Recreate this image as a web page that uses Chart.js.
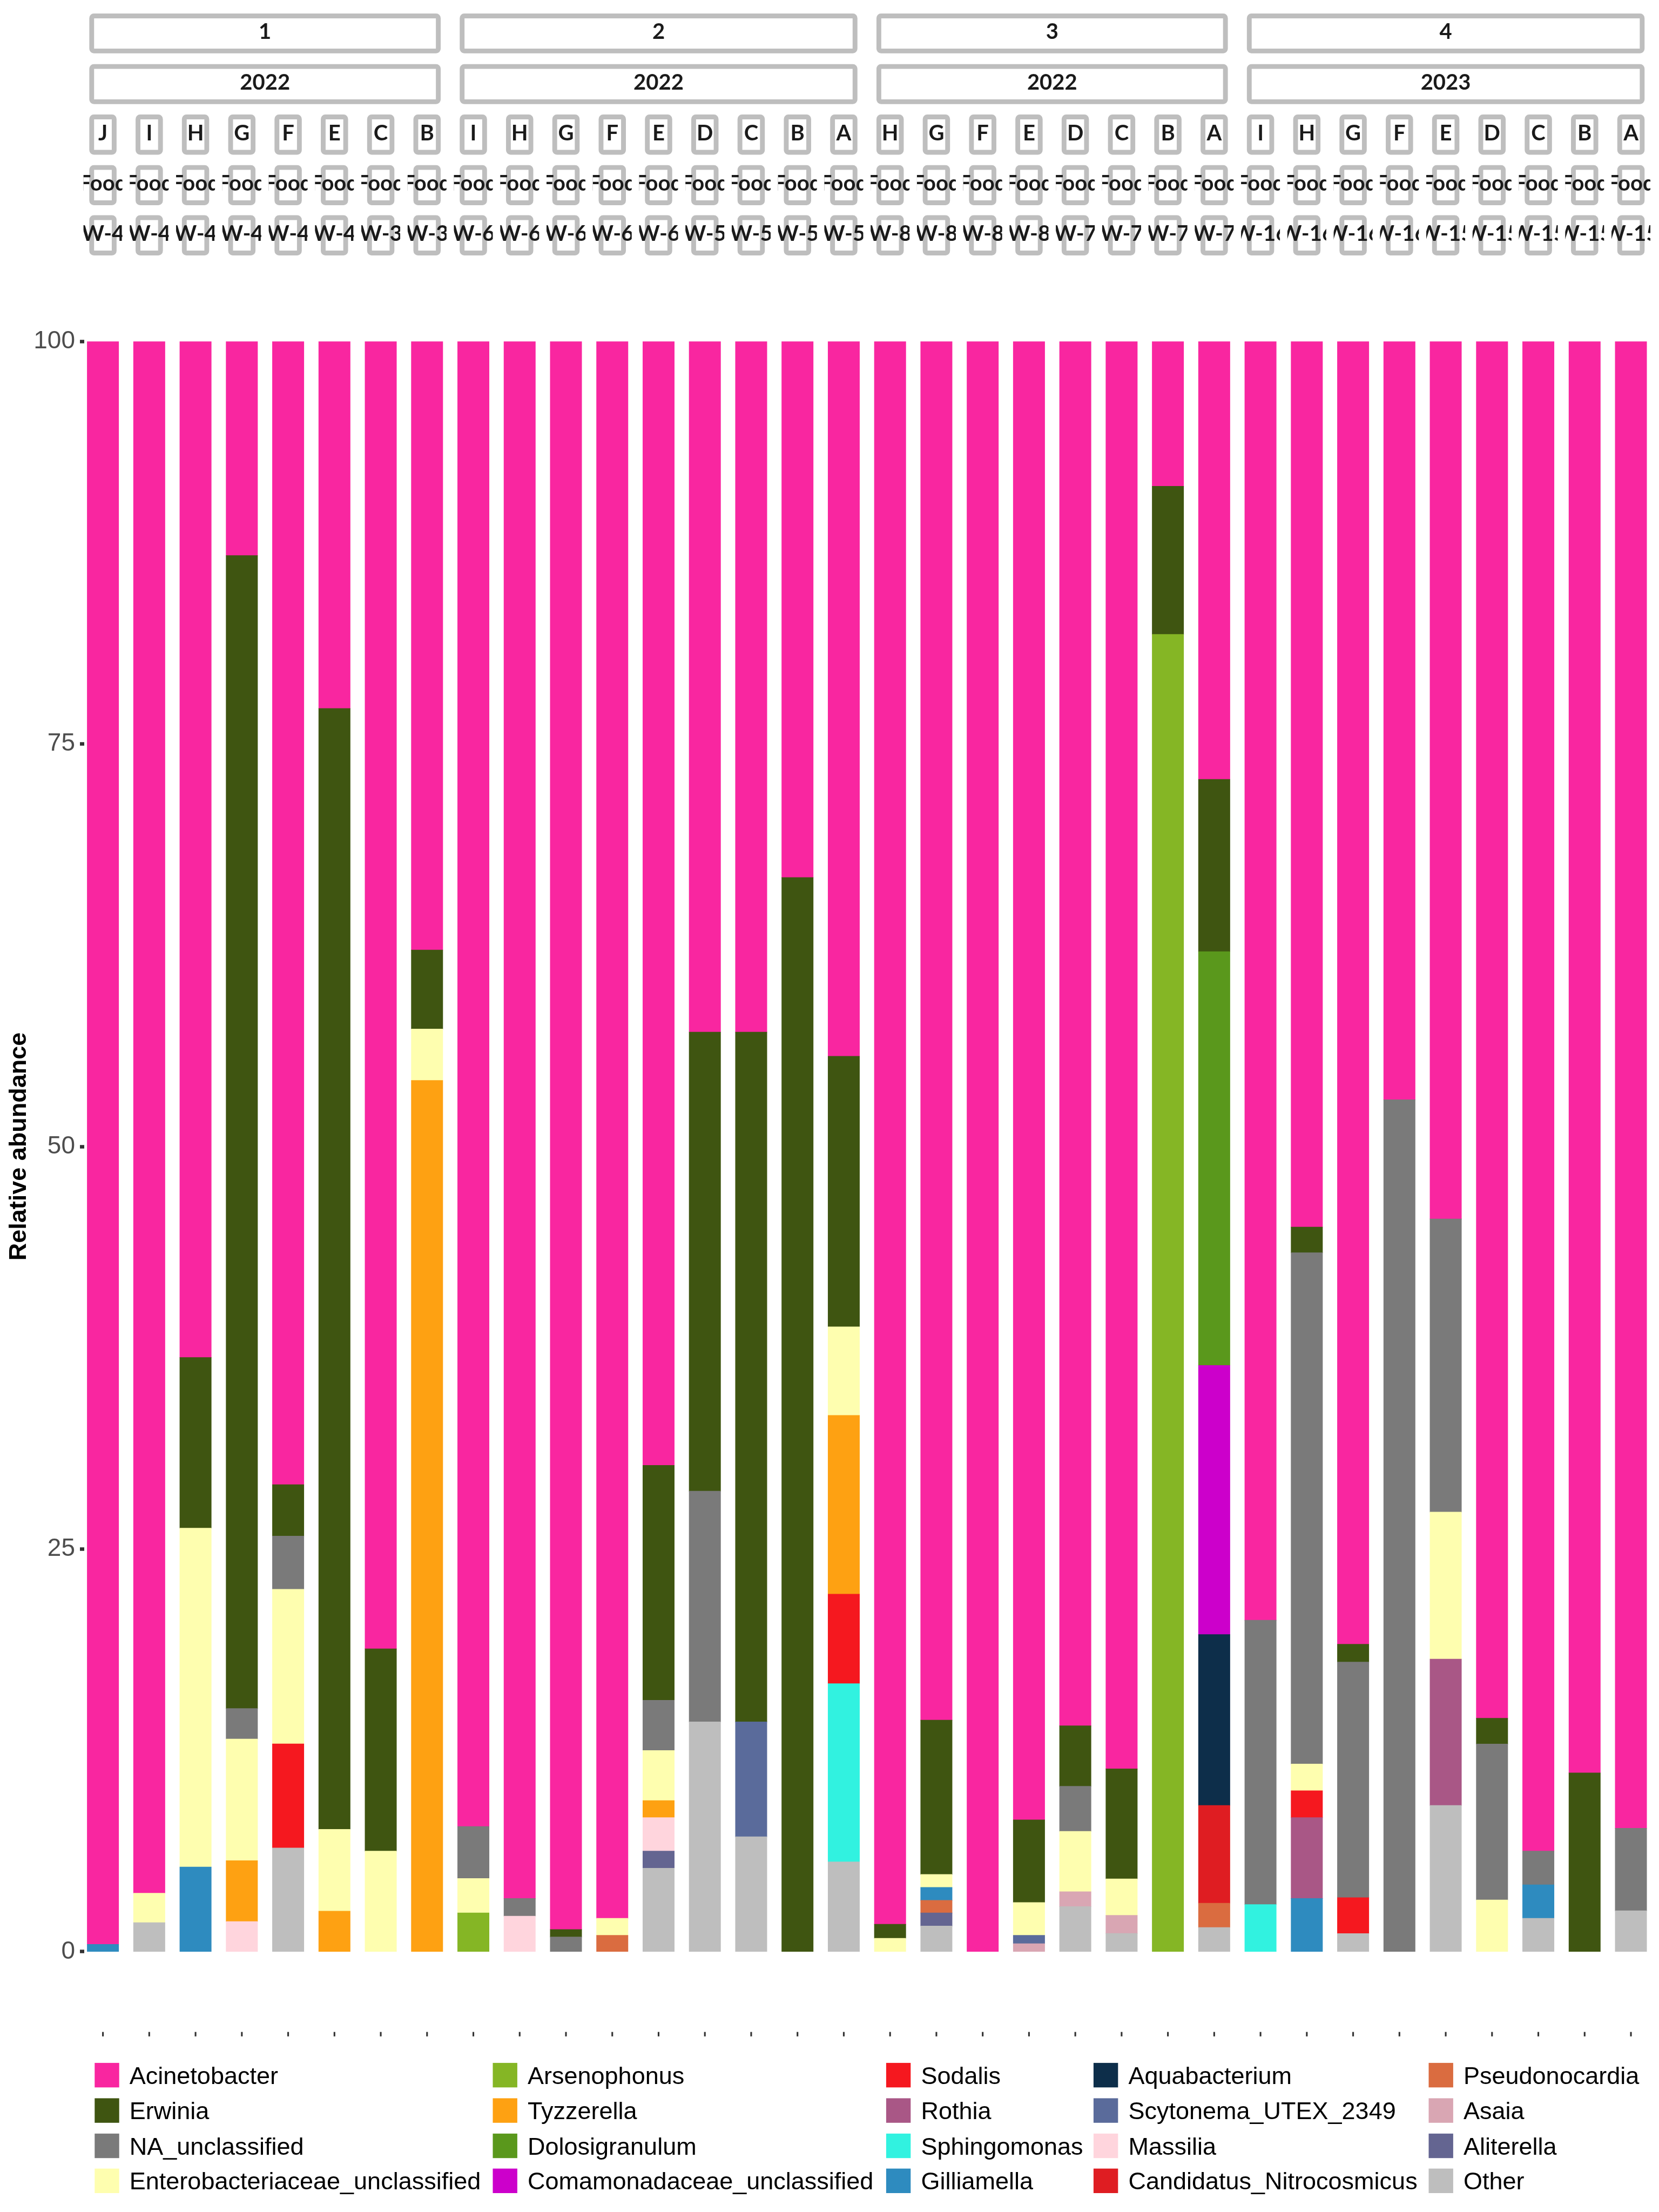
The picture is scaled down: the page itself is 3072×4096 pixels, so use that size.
<!DOCTYPE html>
<html>
<head>
<meta charset="utf-8">
<script src="https://cdn.jsdelivr.net/npm/chart.js@4/dist/chart.umd.min.js"></script>
<style>
html,body{margin:0;padding:0;background:#ffffff;}
#wrap{width:3072px;height:4096px;position:relative;}
</style>
</head>
<body>
<div id="wrap"><canvas id="c" width="3072" height="4096"></canvas></div>
<script>
// ---------------- data ----------------
const samples = ['J','I','H','G','F','E','C','B',
                 'I','H','G','F','E','D','C','B','A',
                 'H','G','F','E','D','C','B','A',
                 'I','H','G','F','E','D','C','B','A'];
const panelIds = ['1','2','3','4'];
const panelYears = ['2022','2022','2022','2023'];
const panelSizes = [8,9,8,9];
const sources = ['Food','Food','Food','Food','Food','Food','Food','Food',
                 'Food','Food','Food','Food','Food','Food','Food','Food','Food',
                 'Food','Food','Food','Food','Food','Food','Food','Food',
                 'Food','Food','Food','Food','Food','Food','Food','Food','Food'];
const weeks = ['W-4','W-4','W-4','W-4','W-4','W-4','W-3','W-3',
               'W-6','W-6','W-6','W-6','W-6','W-5','W-5','W-5','W-5',
               'W-8','W-8','W-8','W-8','W-7','W-7','W-7','W-7',
               'W-16','W-16','W-16','W-16','W-15','W-15','W-15','W-15','W-15'];
const yTicks = [0,25,50,75,100];
const yTitle = 'Relative abundance';

const acinetobacter = [99.55,96.37,63.1,13.3,71.0,22.8,81.2,37.8,
                       92.23,96.7,98.63,97.93,69.8,42.9,42.9,33.3,44.4,
                       98.3,85.62,100,91.82,85.98,88.65,9.0,27.2,
                       79.42,55.0,80.91,47.1,54.5,85.51,93.76,88.9,92.34];
const erwinia = [0,0,10.6,71.6,3.2,69.61,12.56,4.9,
                 0,0,0.46,0,14.59,28.5,42.83,66.7,16.8,
                 0.87,9.59,0,5.13,3.75,6.83,9.2,10.7,
                 0,1.6,1.11,0,0,1.6,0,11.1,0];
const naUnclassified = [0,0,0,1.9,3.3,0,0,0,
                        3.23,1.1,0.91,0,3.12,14.33,0,0,0,
                        0,0,0,0,2.8,0,0,0,
                        17.66,31.75,14.63,52.9,18.2,9.68,2.09,0,5.12];
const enterobacteriaceae = [0,1.83,21.05,7.55,9.6,5.08,6.24,3.2,
                            2.14,0,0,1.06,3.11,0,0,0,5.5,
                            0.83,0.8,0,2.04,3.75,2.27,0,0,
                            0,1.66,0,0,9.13,3.21,0,0,0];
const arsenophonus = [0,0,0,0,0,0,0,0,
                      2.4,0,0,0,0,0,0,0,0,
                      0,0,0,0,0,0,81.8,0,
                      0,0,0,0,0,0,0,0,0];
const tyzzerella = [0,0,0,3.78,0,2.51,0,54.1,
                    0,0,0,0,1.06,0,0,0,11.1,
                    0,0,0,0,0,0,0,0,
                    0,0,0,0,0,0,0,0,0];
const dolosigranulum = [0,0,0,0,0,0,0,0,
                        0,0,0,0,0,0,0,0,0,
                        0,0,0,0,0,0,0,25.7,
                        0,0,0,0,0,0,0,0,0];
const comamonadaceae = [0,0,0,0,0,0,0,0,
                        0,0,0,0,0,0,0,0,0,
                        0,0,0,0,0,0,0,16.71,
                        0,0,0,0,0,0,0,0,0];
const sodalis = [0,0,0,0,6.46,0,0,0,
                 0,0,0,0,0,0,0,0,5.56,
                 0,0,0,0,0,0,0,0,
                 0,1.67,2.23,0,0,0,0,0,0];
const rothia = [0,0,0,0,0,0,0,0,
                0,0,0,0,0,0,0,0,0,
                0,0,0,0,0,0,0,0,
                0,5.02,0,0,9.09,0,0,0,0];
const sphingomonas = [0,0,0,0,0,0,0,0,
                      0,0,0,0,0,0,0,0,11.07,
                      0,0,0,0,0,0,0,0,
                      2.92,0,0,0,0,0,0,0,0];
const gilliamella = [0.45,0,5.25,0,0,0,0,0,
                     0,0,0,0,0,0,0,0,0,
                     0,0.81,0,0,0,0,0,0,
                     0,3.3,0,0,0,0,2.08,0,0];
const aquabacterium = [0,0,0,0,0,0,0,0,
                       0,0,0,0,0,0,0,0,0,
                       0,0,0,0,0,0,0,10.61,
                       0,0,0,0,0,0,0,0,0];
const scytonema = [0,0,0,0,0,0,0,0,
                   0,0,0,0,0,0,7.14,0,0,
                   0,0,0,0.52,0,0,0,0,
                   0,0,0,0,0,0,0,0,0];
const massilia = [0,0,0,1.87,0,0,0,0,
                  0,2.2,0,0,2.08,0,0,0,0,
                  0,0,0,0,0,0,0,0,
                  0,0,0,0,0,0,0,0,0];
const candidatus = [0,0,0,0,0,0,0,0,
                    0,0,0,0,0,0,0,0,0,
                    0,0,0,0,0,0,0,6.07,
                    0,0,0,0,0,0,0,0,0];
const pseudonocardia = [0,0,0,0,0,0,0,0,
                        0,0,0,1.01,0,0,0,0,0,
                        0,0.78,0,0,0,0,0,1.51,
                        0,0,0,0,0,0,0,0,0];
const asaia = [0,0,0,0,0,0,0,0,
               0,0,0,0,0,0,0,0,0,
               0,0,0,0.49,0.92,1.12,0,0,
               0,0,0,0,0,0,0,0,0];
const aliterella = [0,0,0,0,0,0,0,0,
                    0,0,0,0,1.06,0,0,0,0,
                    0,0.81,0,0,0,0,0,0,
                    0,0,0,0,0,0,0,0,0];
const other = [0,1.8,0,0,6.44,0,0,0,
               0,0,0,0,5.18,14.27,7.13,0,5.57,
               0,1.59,0,0,2.8,1.13,0,1.5,
               0,0,1.12,0,9.08,0,2.07,0,2.54];

const genusNames = ['Acinetobacter','Erwinia','NA_unclassified','Enterobacteriaceae_unclassified',
  'Arsenophonus','Tyzzerella','Dolosigranulum','Comamonadaceae_unclassified',
  'Sodalis','Rothia','Sphingomonas','Gilliamella',
  'Aquabacterium','Scytonema_UTEX_2349','Massilia','Candidatus_Nitrocosmicus',
  'Pseudonocardia','Asaia','Aliterella','Other'];
const genusValues = [acinetobacter, erwinia, naUnclassified, enterobacteriaceae,
  arsenophonus, tyzzerella, dolosigranulum, comamonadaceae,
  sodalis, rothia, sphingomonas, gilliamella,
  aquabacterium, scytonema, massilia, candidatus,
  pseudonocardia, asaia, aliterella, other];
const genusColors = ['#F926A0','#3F5511','#7A7A7A','#FEFEAF',
  '#85B625','#FEA112','#5A981C','#CC00CB',
  '#F5181F','#A95786','#31F2E0','#2E8BBF',
  '#0D2E4A','#5A6B9B','#FFD5DD','#DF1D22',
  '#DA6C40','#D9A6B3','#646591','#BEBEBE'];

// ---------------- chart ----------------
Chart.defaults.font.family = "'Liberation Sans', Arial, sans-serif";

const datasets = [];
for (let g = genusNames.length - 1; g >= 0; g--) {
  const pts = [];
  genusValues[g].forEach((v, i) => { if (v > 0) pts.push({x: i, y: v}); });
  datasets.push({
    label: genusNames[g],
    data: pts,
    backgroundColor: genusColors[g],
    borderWidth: 0,
    barThickness: 58,
    inflateAmount: 0.5
  });
}

const decor = {
  id: 'decor',
  beforeDraw(chart) {
    const ctx = chart.ctx;
    ctx.save();
    ctx.fillStyle = '#ffffff';
    ctx.fillRect(0, 0, chart.width, chart.height);
    ctx.restore();
  },
  afterDraw(chart) {
    const ctx = chart.ctx;
    const xs = chart.scales.x;
    const rows = [[25.1,98.8],[118.7,192.8],[212.0,286.4],[305.7,380.0],[398.6,473.0]];
    const half = 25.25, bw = 8.9;
    function box(l, r, t, b) {
      ctx.save();
      ctx.fillStyle = '#ffffff';
      ctx.strokeStyle = '#BEBEBE';
      ctx.lineWidth = bw;
      ctx.beginPath();
      ctx.roundRect(l + bw/2, t + bw/2, (r - l) - bw, (b - t) - bw, 4);
      ctx.fill();
      ctx.stroke();
      ctx.restore();
    }
    function label(txt, cx, row, clipW) {
      const t = rows[row][0], b = rows[row][1];
      ctx.save();
      if (clipW) {
        ctx.beginPath();
        ctx.rect(cx - clipW/2, t, clipW, b - t);
        ctx.clip();
      }
      ctx.fillStyle = '#1A1A1A';
      ctx.font = "bold 40px Lato, 'Open Sans', sans-serif";
      ctx.textAlign = 'center';
      ctx.textBaseline = 'alphabetic';
      ctx.fillText(txt, cx, (t + b) / 2 + 10.3);
      ctx.restore();
    }
    // panel strips
    let start = 0;
    for (let p = 0; p < panelSizes.length; p++) {
      const first = start, last = start + panelSizes[p] - 1;
      const l = xs.getPixelForValue(first) - half;
      const r = xs.getPixelForValue(last) + half;
      box(l, r, rows[0][0], rows[0][1]);
      box(l, r, rows[1][0], rows[1][1]);
      label(panelIds[p], (l + r) / 2, 0);
      label(panelYears[p], (l + r) / 2, 1);
      start += panelSizes[p];
    }
    // per-sample strips
    for (let i = 0; i < samples.length; i++) {
      const cx = xs.getPixelForValue(i);
      for (let r = 2; r < 5; r++) box(cx - half, cx + half, rows[r][0], rows[r][1]);
      label(samples[i], cx, 2, 72);
      label(sources[i], cx, 3, 72);
      label(weeks[i], cx, 4, 72);
    }
    // bottom x ticks
    ctx.save();
    ctx.strokeStyle = '#333333';
    ctx.lineWidth = 3.1;
    for (let i = 0; i < samples.length; i++) {
      const cx = xs.getPixelForValue(i);
      ctx.beginPath();
      ctx.moveTo(cx, 3762.6);
      ctx.lineTo(cx, 3770.8);
      ctx.stroke();
    }
    ctx.restore();
    // y title
    ctx.save();
    ctx.translate(48.4, (chart.chartArea.top + chart.chartArea.bottom) / 2);
    ctx.rotate(-Math.PI / 2);
    ctx.fillStyle = '#000000';
    ctx.font = "bold 45px 'Liberation Sans', Arial, sans-serif";
    ctx.textAlign = 'center';
    ctx.textBaseline = 'alphabetic';
    ctx.fillText(yTitle, 0, 0);
    ctx.restore();
    // legend (column-major, 4 rows x 5 columns)
    const colX = [175.3, 912.5, 1640.9, 2024.9, 2645.5];
    const rowTop = [3819.9, 3885.4, 3950.8, 4015.6];
    const key = 45.4;
    ctx.save();
    ctx.font = "45px 'Liberation Sans', Arial, sans-serif";
    ctx.textAlign = 'left';
    ctx.textBaseline = 'alphabetic';
    for (let g = 0; g < genusNames.length; g++) {
      const c = Math.floor(g / 4), r = g % 4;
      ctx.fillStyle = genusColors[g];
      ctx.fillRect(colX[c], rowTop[r], key, key);
      ctx.fillStyle = '#000000';
      ctx.fillText(genusNames[g], colX[c] + 64.5, rowTop[r] + key / 2 + 16.1);
    }
    ctx.restore();
  }
};

new Chart(document.getElementById('c'), {
  type: 'bar',
  data: { datasets },
  options: {
    responsive: false,
    animation: false,
    devicePixelRatio: 1,
    layout: { padding: { top: 632.2, right: 9.1, left: 0, bottom: 0 } },
    plugins: { legend: { display: false }, tooltip: { enabled: false } },
    scales: {
      x: {
        type: 'linear',
        stacked: true,
        min: -0.4094,
        max: 33.5,
        offset: false,
        ticks: { display: false },
        grid: { display: false },
        border: { display: false },
        afterFit(s) { s.height = 482.1; }
      },
      y: {
        stacked: true,
        min: 0,
        max: 100,
        afterBuildTicks(s) { s.ticks = yTicks.map(v => ({ value: v })); },
        ticks: {
          font: { size: 46 },
          color: '#4D4D4D',
          padding: 9,
          callback: (v) => String(v)
        },
        grid: {
          drawOnChartArea: false,
          drawTicks: true,
          tickLength: 7.5,
          tickWidth: 6.5,
          tickColor: '#333333'
        },
        border: { display: false },
        afterFit(s) { s.width = 155.5; }
      }
    }
  },
  plugins: [decor]
});
</script>
</body>
</html>
